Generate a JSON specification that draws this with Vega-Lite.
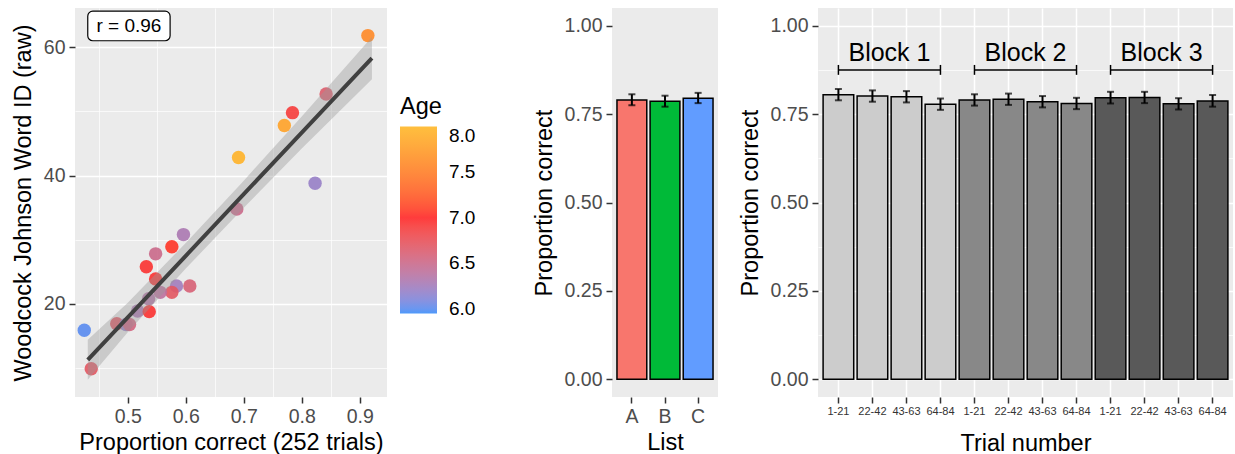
{
  "$schema": "https://vega.github.io/schema/vega-lite/v6.json",
  "padding": {"left": 11, "top": 8, "right": 2, "bottom": 0},
  "bounds": "flush",
  "spacing": 225,
  "resolve": {"scale": {"fill": "independent", "color": "independent"}},
  "config": {
    "font": "Liberation Sans",
    "view": {"fill": "#ebebeb", "stroke": null},
    "axis": {
      "labelFont": "Liberation Sans", "titleFont": "Liberation Sans",
      "labelFontSize": 19.5, "labelColor": "#4d4d4d",
      "titleFontSize": 23.5, "titleColor": "#000000", "titleFontWeight": "normal",
      "tickColor": "#333333", "tickSize": 6, "tickWidth": 1.5, "labelPadding": 4,
      "labelOverlap": false,
      "domain": false, "gridColor": "#ffffff", "gridWidth": 1.5
    },
    "legend": {"labelFont": "Liberation Sans", "titleFont": "Liberation Sans", "gradientThickness": 37}
  },
  "datasets": {
    "scatter": [
      {"prop": 0.914, "wj": 61.8, "age": 7.6},
      {"prop": 0.842, "wj": 52.7, "age": 6.65},
      {"prop": 0.784, "wj": 49.8, "age": 6.9},
      {"prop": 0.770, "wj": 47.8, "age": 7.8},
      {"prop": 0.691, "wj": 42.8, "age": 7.95},
      {"prop": 0.823, "wj": 38.8, "age": 6.2},
      {"prop": 0.688, "wj": 34.8, "age": 6.5},
      {"prop": 0.596, "wj": 30.8, "age": 6.3},
      {"prop": 0.576, "wj": 28.9, "age": 7.05},
      {"prop": 0.548, "wj": 27.8, "age": 6.5},
      {"prop": 0.532, "wj": 25.8, "age": 6.95},
      {"prop": 0.548, "wj": 23.9, "age": 6.95},
      {"prop": 0.607, "wj": 22.8, "age": 6.6},
      {"prop": 0.584, "wj": 22.8, "age": 6.25},
      {"prop": 0.576, "wj": 21.8, "age": 6.7},
      {"prop": 0.556, "wj": 21.8, "age": 6.4},
      {"prop": 0.536, "wj": 20.8, "age": 6.35},
      {"prop": 0.517, "wj": 18.9, "age": 6.3},
      {"prop": 0.537, "wj": 18.8, "age": 6.95},
      {"prop": 0.481, "wj": 16.9, "age": 6.7},
      {"prop": 0.497, "wj": 16.8, "age": 6.2},
      {"prop": 0.503, "wj": 16.8, "age": 6.55},
      {"prop": 0.425, "wj": 15.9, "age": 6.0},
      {"prop": 0.437, "wj": 9.9, "age": 6.7}
    ],
    "fit": [
      {"prop": 0.431, "fit": 11.3, "lo": 8.2, "hi": 14.4},
      {"prop": 0.5, "fit": 17.9, "lo": 15.6, "hi": 20.2},
      {"prop": 0.6, "fit": 27.5, "lo": 25.5, "hi": 29.5},
      {"prop": 0.7, "fit": 37.1, "lo": 35.0, "hi": 39.2},
      {"prop": 0.8, "fit": 46.7, "lo": 44.2, "hi": 49.2},
      {"prop": 0.921, "fit": 58.3, "lo": 55.0, "hi": 61.6}
    ],
    "rlabel": [
      {"x0": 0.431, "x1": 0.573, "y0": 61.0, "y1": 65.6, "xm": 0.502, "ym": 63.3, "label": "r = 0.96"}
    ],
    "lists": [
      {"list": "A", "prop": 0.790, "lo": 0.775, "hi": 0.806},
      {"list": "B", "prop": 0.786, "lo": 0.771, "hi": 0.802},
      {"list": "C", "prop": 0.795, "lo": 0.781, "hi": 0.810}
    ],
    "trials": [
      {"id": "1|1-21", "block": "Block 1", "prop": 0.805, "lo": 0.789, "hi": 0.821},
      {"id": "1|22-42", "block": "Block 1", "prop": 0.801, "lo": 0.785, "hi": 0.817},
      {"id": "1|43-63", "block": "Block 1", "prop": 0.799, "lo": 0.783, "hi": 0.815},
      {"id": "1|64-84", "block": "Block 1", "prop": 0.778, "lo": 0.762, "hi": 0.794},
      {"id": "2|1-21", "block": "Block 2", "prop": 0.790, "lo": 0.774, "hi": 0.806},
      {"id": "2|22-42", "block": "Block 2", "prop": 0.792, "lo": 0.776, "hi": 0.808},
      {"id": "2|43-63", "block": "Block 2", "prop": 0.785, "lo": 0.769, "hi": 0.801},
      {"id": "2|64-84", "block": "Block 2", "prop": 0.780, "lo": 0.764, "hi": 0.796},
      {"id": "3|1-21", "block": "Block 3", "prop": 0.796, "lo": 0.780, "hi": 0.813},
      {"id": "3|22-42", "block": "Block 3", "prop": 0.797, "lo": 0.781, "hi": 0.813},
      {"id": "3|43-63", "block": "Block 3", "prop": 0.779, "lo": 0.763, "hi": 0.795},
      {"id": "3|64-84", "block": "Block 3", "prop": 0.787, "lo": 0.771, "hi": 0.804}
    ],
    "brackets": [
      {"block": "Block 1", "from": "1|1-21", "to": "1|64-84", "mid": "1|22-42", "y": 0.875, "ty": 0.922},
      {"block": "Block 2", "from": "2|1-21", "to": "2|64-84", "mid": "2|22-42", "y": 0.875, "ty": 0.922},
      {"block": "Block 3", "from": "3|1-21", "to": "3|64-84", "mid": "3|22-42", "y": 0.875, "ty": 0.922}
    ],
    "caps": [
      {"id": "1|1-21", "capLo": 0.861, "capHi": 0.889},
      {"id": "1|64-84", "capLo": 0.861, "capHi": 0.889},
      {"id": "2|1-21", "capLo": 0.861, "capHi": 0.889},
      {"id": "2|64-84", "capLo": 0.861, "capHi": 0.889},
      {"id": "3|1-21", "capLo": 0.861, "capHi": 0.889},
      {"id": "3|64-84", "capLo": 0.861, "capHi": 0.889}
    ]
  },
  "hconcat": [
    {
      "width": 312,
      "height": 389,
      "resolve": {"axis": {"x": "independent"}},
      "layer": [
        {
          "data": {"name": "fit"},
          "mark": {"type": "area", "opacity": 0},
          "encoding": {
            "x": {
              "field": "prop", "type": "quantitative",
              "scale": {"domain": [0.409, 0.947], "nice": false, "zero": false},
              "axis": {
                "orient": "top", "title": null, "labels": false, "ticks": false,
                "values": [0.45, 0.55, 0.65, 0.75, 0.85],
                "gridWidth": 0.7
              }
            },
            "y": {"field": "lo", "type": "quantitative"},
            "y2": {"field": "hi"}
          }
        },
        {
          "data": {"name": "scatter"},
          "mark": {"type": "circle", "size": 180, "opacity": 0.9},
          "encoding": {
            "x": {
              "field": "prop", "type": "quantitative",
              "axis": {
                "orient": "bottom",
                "title": "Proportion correct (252 trials)",
                "values": [0.5, 0.6, 0.7, 0.8, 0.9],
                "format": ".1f",
                "gridWidth": 1.5,
                "titlePadding": 5
              }
            },
            "y": {
              "field": "wj", "type": "quantitative",
              "scale": {"domain": [5.5, 66.1], "nice": false, "zero": false},
              "axis": {
                "title": "Woodcock Johnson Word ID (raw)",
                "values": [10, 20, 30, 40, 50, 60],
                "labelExpr": "datum.value % 20 == 0 ? datum.value : ''",
                "gridWidth": {"condition": {"test": "datum.value % 20 != 0", "value": 0.7}, "value": 1.5},
                "tickOpacity": {"condition": {"test": "datum.value % 20 != 0", "value": 0}, "value": 1},
                "titlePadding": 8
              }
            },
            "color": {
              "field": "age", "type": "quantitative",
              "scale": {"domain": [5.95, 7, 8], "range": ["#3a8efa", "#ff2626", "#ffb828"], "interpolate": "lab"},
              "legend": {
                "title": "Age", "orient": "none", "legendX": 325, "legendY": 87,
                "direction": "vertical",
                "gradientLength": 187, "gradientThickness": 37, "gradientStrokeWidth": 0,
                "values": [6, 6.5, 7, 7.5, 8], "format": ".1f",
                "titleFontSize": 23.5, "titleFontWeight": "normal", "titleColor": "#000000", "titlePadding": 8,
                "labelFontSize": 19, "labelColor": "#000000", "labelOffset": 12
              }
            }
          }
        },
        {
          "data": {"name": "fit"},
          "mark": {"type": "area", "color": "#999999", "opacity": 0.4},
          "encoding": {
            "x": {"field": "prop", "type": "quantitative", "axis": null},
            "y": {"field": "lo", "type": "quantitative"},
            "y2": {"field": "hi"}
          }
        },
        {
          "data": {"name": "fit"},
          "mark": {"type": "line", "color": "#404040", "strokeWidth": 4},
          "encoding": {
            "x": {"field": "prop", "type": "quantitative", "axis": null},
            "y": {"field": "fit", "type": "quantitative"}
          }
        },
        {
          "data": {"name": "rlabel"},
          "mark": {"type": "rect", "fill": "#ffffff", "stroke": "#000000", "strokeWidth": 1.2, "cornerRadius": 5},
          "encoding": {
            "x": {"field": "x0", "type": "quantitative", "axis": null},
            "x2": {"field": "x1"},
            "y": {"field": "y0", "type": "quantitative"},
            "y2": {"field": "y1"}
          }
        },
        {
          "data": {"name": "rlabel"},
          "mark": {"type": "text", "fontSize": 19, "color": "#000000", "align": "center", "baseline": "middle"},
          "encoding": {
            "x": {"field": "xm", "type": "quantitative", "axis": null},
            "y": {"field": "ym", "type": "quantitative"},
            "text": {"field": "label"}
          }
        }
      ]
    },
    {
      "bounds": "flush",
      "spacing": 100,
      "resolve": {"scale": {"fill": "independent"}},
      "hconcat": [
        {
          "width": 106,
          "height": 389,
          "data": {"name": "lists"},
          "encoding": {
            "x": {
              "field": "list", "type": "nominal",
              "scale": {"paddingInner": 0.1, "paddingOuter": 0.15},
              "axis": {"title": "List", "labelAngle": 0, "grid": false, "titlePadding": 5}
            }
          },
          "layer": [
            {
              "mark": {"type": "bar", "stroke": "#000000", "strokeWidth": 1.5},
              "encoding": {
                "y": {
                  "field": "prop", "type": "quantitative",
                  "scale": {"domain": [-0.05, 1.05], "nice": false},
                  "axis": {"title": "Proportion correct", "values": [0, 0.25, 0.5, 0.75, 1], "format": ".2f", "grid": false, "titlePadding": 8}
                },
                "fill": {"field": "list", "type": "nominal", "scale": {"range": ["#f8766d", "#00ba38", "#619cff"]}, "legend": null}
              }
            },
            {
              "mark": {"type": "rule", "color": "#000000", "strokeWidth": 2},
              "encoding": {"y": {"field": "lo", "type": "quantitative"}, "y2": {"field": "hi"}}
            },
            {
              "mark": {"type": "tick", "color": "#000000", "size": 7, "thickness": 2},
              "encoding": {"y": {"field": "lo", "type": "quantitative"}}
            },
            {
              "mark": {"type": "tick", "color": "#000000", "size": 7, "thickness": 2},
              "encoding": {"y": {"field": "hi", "type": "quantitative"}}
            }
          ]
        },
        {
          "width": 415,
          "height": 389,
          "layer": [
            {
              "data": {"name": "trials"},
              "mark": {"type": "bar", "stroke": "#000000", "strokeWidth": 1.5},
              "encoding": {
                "x": {
                  "field": "id", "type": "nominal", "sort": null,
                  "scale": {"paddingInner": 0.1, "paddingOuter": 0.15},
                  "axis": {"title": "Trial number", "labelAngle": 0, "labelFontSize": 11, "labelColor": "#333333", "labelPadding": 2, "labelExpr": "split(datum.value, '|')[1]", "grid": true, "titlePadding": 15}
                },
                "y": {
                  "field": "prop", "type": "quantitative",
                  "scale": {"domain": [-0.05, 1.05], "nice": false},
                  "axis": {
                    "title": "Proportion correct",
                    "values": [0, 0.125, 0.25, 0.375, 0.5, 0.625, 0.75, 0.875, 1],
                    "labelExpr": "round(datum.value*1000) % 250 == 0 ? format(datum.value, '.2f') : ''",
                    "gridWidth": {"condition": {"test": "round(datum.value*1000) % 250 != 0", "value": 0.7}, "value": 1.5},
                    "tickOpacity": {"condition": {"test": "round(datum.value*1000) % 250 != 0", "value": 0}, "value": 1},
                    "titlePadding": 8
                  }
                },
                "fill": {"field": "block", "type": "nominal", "scale": {"range": ["#cccccc", "#888888", "#595959"]}, "legend": null}
              }
            },
            {
              "mark": {"type": "rule", "color": "#e0101a", "strokeWidth": 2, "strokeDash": [7, 4]},
              "encoding": {"y": {"datum": 0.792}}
            },
            {
              "data": {"name": "trials"},
              "mark": {"type": "rule", "color": "#000000", "strokeWidth": 2},
              "encoding": {
                "x": {"field": "id", "type": "nominal", "sort": null},
                "y": {"field": "lo", "type": "quantitative"}, "y2": {"field": "hi"}
              }
            },
            {
              "data": {"name": "trials"},
              "mark": {"type": "tick", "color": "#000000", "size": 7, "thickness": 2},
              "encoding": {"x": {"field": "id", "type": "nominal", "sort": null}, "y": {"field": "lo", "type": "quantitative"}}
            },
            {
              "data": {"name": "trials"},
              "mark": {"type": "tick", "color": "#000000", "size": 7, "thickness": 2},
              "encoding": {"x": {"field": "id", "type": "nominal", "sort": null}, "y": {"field": "hi", "type": "quantitative"}}
            },
            {
              "data": {"name": "brackets"},
              "mark": {"type": "rule", "color": "#000000", "strokeWidth": 1.5},
              "encoding": {
                "x": {"field": "from", "type": "nominal", "sort": null},
                "x2": {"field": "to"},
                "y": {"field": "y", "type": "quantitative"}
              }
            },
            {
              "data": {"name": "caps"},
              "mark": {"type": "rule", "color": "#000000", "strokeWidth": 1.5},
              "encoding": {
                "x": {"field": "id", "type": "nominal", "sort": null},
                "y": {"field": "capLo", "type": "quantitative"},
                "y2": {"field": "capHi"}
              }
            },
            {
              "data": {"name": "brackets"},
              "mark": {"type": "text", "fontSize": 25, "color": "#000000", "align": "center", "baseline": "middle"},
              "encoding": {
                "x": {"field": "mid", "type": "nominal", "sort": null, "bandPosition": 1.0556},
                "y": {"field": "ty", "type": "quantitative"},
                "text": {"field": "block"}
              }
            }
          ]
        }
      ]
    }
  ]
}
